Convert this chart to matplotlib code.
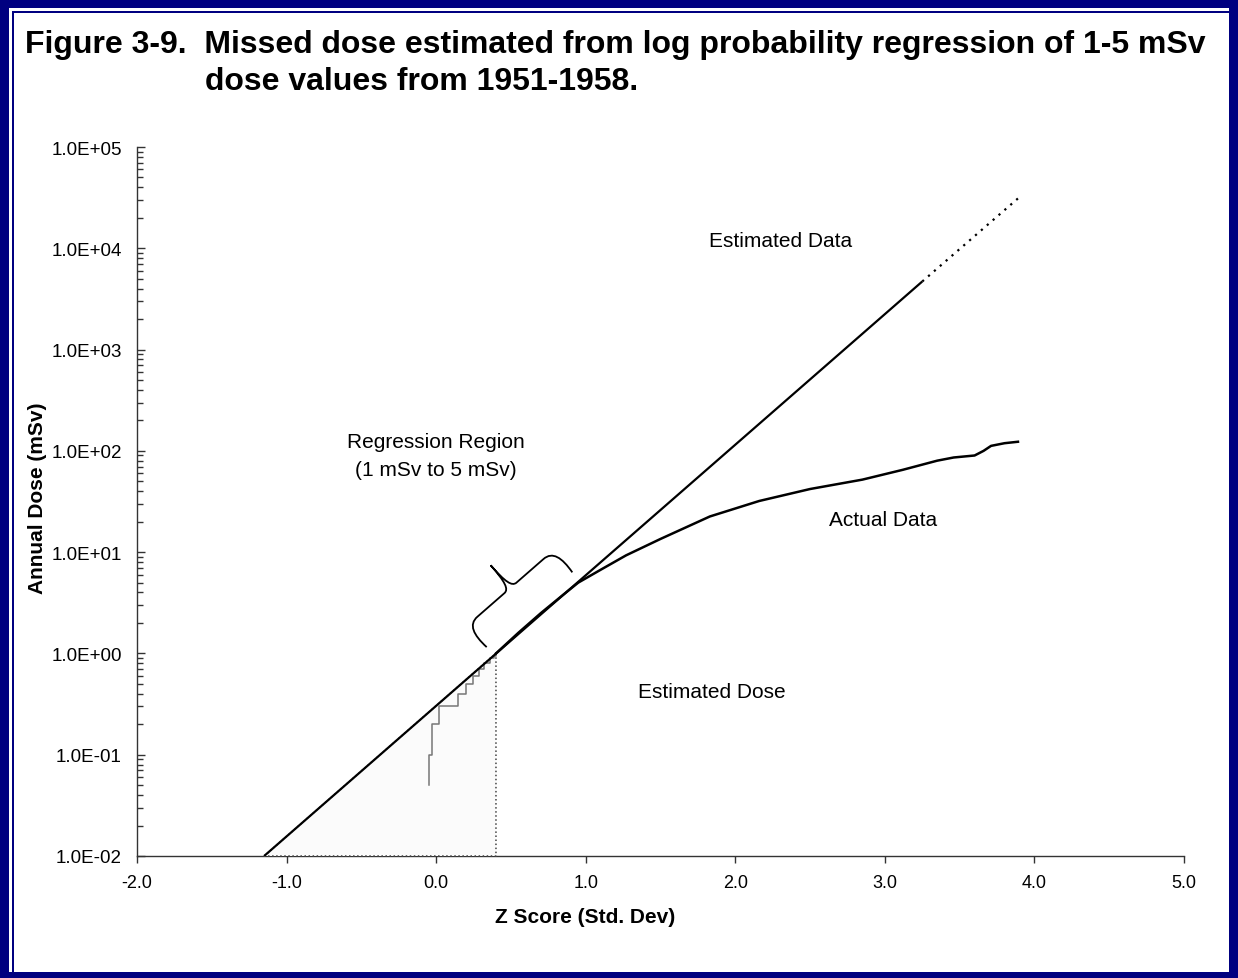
import matplotlib

matplotlib.use("Agg")

import matplotlib.pyplot as plt
import numpy as np
from matplotlib.patches import Rectangle, PathPatch
from matplotlib.path import Path
from matplotlib.ticker import FuncFormatter, LogLocator, NullFormatter
from matplotlib.transforms import IdentityTransform

plt.rcParams["font.family"] = ["Liberation Sans", "DejaVu Sans"]

# regression line (log-normal fit), solid part and dotted extrapolation
reg_z = [-1.15, 3.25]
reg_dose = [0.01, 4700.0]
ext_z = [3.25, 3.90]
ext_dose = [4700.0, 32000.0]

# measured doses, staircase part below 1 mSv (recorded in 0.1 mSv steps)
stair_z = [-0.046, -0.046, -0.028, 0.016, 0.144, 0.200, 0.245, 0.289, 0.323, 0.360, 0.390, 0.400]
stair_dose = [0.05, 0.1, 0.2, 0.3, 0.4, 0.5, 0.6, 0.7, 0.8, 0.9, 0.95, 1.0]

# measured doses above 1 mSv
act_z = [0.40, 0.55, 0.70, 0.85, 0.95, 1.10, 1.27, 1.50, 1.83, 2.16, 2.50, 2.85,
         3.12, 3.35, 3.46, 3.60, 3.66, 3.71, 3.80, 3.89]
act_dose = [1.0, 1.6, 2.5, 3.8, 5.0, 6.7, 9.3, 13.5, 22.5, 32, 42, 52,
            65, 80, 86, 90, 100, 112, 119, 123]

# estimated (missed) dose region
fill_z = [-1.15, 0.40, 0.40]
fill_dose = [0.01, 1.0, 0.01]

region_lo, region_hi = 1.0, 5.0

x_ticks = [-2, -1, 0, 1, 2, 3, 4, 5]
y_min, y_max = 1e-2, 1e5

W, H = 1238, 979
fig = plt.figure(figsize=(W / 100, H / 100), dpi=100)
ax = fig.add_axes([137 / W, (H - 857) / H, (1184 - 137) / W, (857 - 148) / H])

ax.set_yscale("log")
ax.set_xlim(-2, 5)
ax.set_ylim(y_min, y_max)

ax.fill(fill_z, fill_dose, facecolor="#fbfbfb", edgecolor="#444444",
        linestyle=":", linewidth=1.1, zorder=3, clip_on=False)
ax.plot(reg_z, reg_dose, color="black", linewidth=1.6, zorder=5,
        solid_capstyle="butt")
ax.plot(ext_z, ext_dose, color="black", linewidth=1.6, linestyle=(0, (1, 2.5)),
        zorder=5)
ax.plot(stair_z, stair_dose, drawstyle="steps-post", color="#777777",
        linewidth=1.1, zorder=4)
ax.plot(act_z, act_dose, color="black", linewidth=1.8, zorder=6)

# axes styling
for side in ["top", "right"]:
    ax.spines[side].set_visible(False)
for side in ["left", "bottom"]:
    ax.spines[side].set_color("#333333")
    ax.spines[side].set_linewidth(1.0)

ax.set_xticks(x_ticks)
ax.set_xticklabels([f"{t:.1f}" for t in x_ticks])
ax.tick_params(axis="x", direction="out", length=5, width=1, pad=8,
               labelsize=13, color="#333333")
ax.yaxis.set_major_locator(LogLocator(base=10, numticks=20))
ax.yaxis.set_minor_locator(LogLocator(base=10, subs=np.arange(2, 10), numticks=20))
ax.yaxis.set_major_formatter(FuncFormatter(lambda v, p: f"{v:.1E}"))
ax.yaxis.set_minor_formatter(NullFormatter())
ax.tick_params(axis="y", which="major", direction="in", length=6, width=1,
               pad=11, labelsize=13.5, color="#333333")
ax.tick_params(axis="y", which="minor", direction="in", length=4, width=1,
               color="#333333")

# annotations
ax.text(2.30, 12000, "Estimated Data", fontsize=15, ha="center", va="center")
ax.text(2.99, 21, "Actual Data", fontsize=15, ha="center", va="center")
ax.text(1.84, 0.42, "Estimated Dose", fontsize=15, ha="center", va="center")
ax.text(0.0, 90, "Regression Region\n(1 mSv to 5 mSv)", fontsize=15,
        ha="center", va="center", linespacing=1.6)

# curly brace over the regression region (built in pixel space)
lz = np.interp(np.log10([region_lo, region_hi]), np.log10(reg_dose), reg_z)
p1 = ax.transData.transform((lz[0], region_lo))
p2 = ax.transData.transform((lz[1], region_hi))
d = (p2 - p1) / np.linalg.norm(p2 - p1)
n = np.array([-d[1], d[0]])
L = np.linalg.norm(p2 - p1) + 6
a = p1 - 3 * d + 11 * n
h, t, r = 29, 59, 8
local = [
    (0, 0), (-2, 18), (1, h), (r + 5, h),
    (L / 2 - r, h),
    (L / 2 - 2, h), (L / 2, h + 8), (L / 2, t),
    (L / 2, h + 8), (L / 2 + 2, h), (L / 2 + r, h),
    (L - r - 5, h),
    (L - 1, h), (L + 2, 18), (L, 0),
]
codes = [Path.MOVETO, Path.CURVE4, Path.CURVE4, Path.CURVE4,
         Path.LINETO,
         Path.CURVE4, Path.CURVE4, Path.CURVE4,
         Path.CURVE4, Path.CURVE4, Path.CURVE4,
         Path.LINETO,
         Path.CURVE4, Path.CURVE4, Path.CURVE4]
verts = [a + u * d + v * n for u, v in local]
ax.add_patch(PathPatch(Path(verts, codes), facecolor="none", edgecolor="black",
                       linewidth=1.3, transform=IdentityTransform(), zorder=7,
                       clip_on=False))

# titles and axis labels
fig.text(25 / W, 1 - 53 / H,
         "Figure 3-9.  Missed dose estimated from log probability regression of 1-5 mSv",
         fontsize=23, fontweight="bold", ha="left", va="baseline")
fig.text(205 / W, 1 - 90 / H, "dose values from 1951-1958.",
         fontsize=23, fontweight="bold", ha="left", va="baseline")
fig.text(585 / W, 1 - 918 / H, "Z Score (Std. Dev)", fontsize=15,
         fontweight="bold", ha="center", va="center")
fig.text(38 / W, 1 - 498 / H, "Annual Dose (mSv)", fontsize=15,
         fontweight="bold", ha="center", va="center", rotation=90)

# navy frame
navy = "#000080"
for x0, y0, w, hh in [(0, 0, W, 6), (0, H - 9, W, 9), (0, 0, 9, H), (W - 9, 0, 9, H),
                      (12, 0, 2, H - 12), (12, H - 14, W - 12, 2)]:
    fig.patches.append(Rectangle((x0 / W, y0 / H), w / W, hh / H,
                                 transform=fig.transFigure, facecolor=navy,
                                 edgecolor="none", zorder=10))

fig.savefig("out.png", dpi=100)
plt.close(fig)
